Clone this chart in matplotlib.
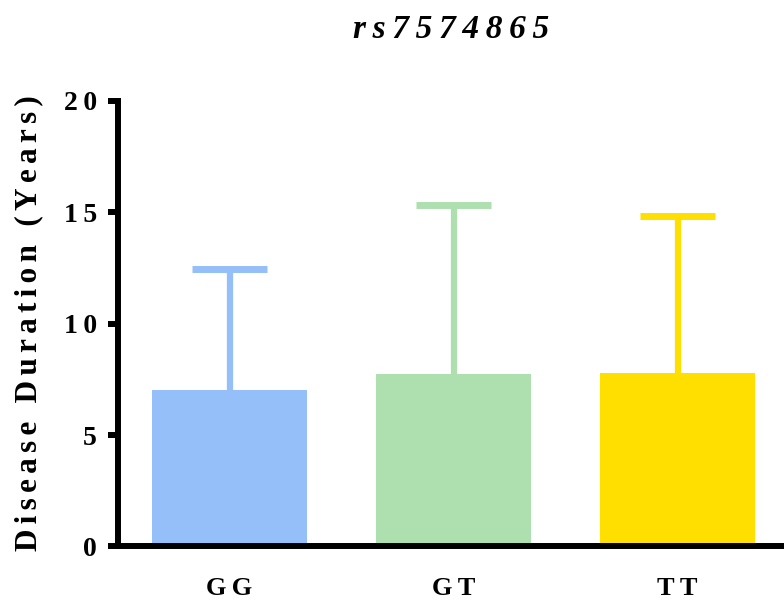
import matplotlib
matplotlib.use("Agg")
import matplotlib.pyplot as plt

# Genotype groups, mean disease duration and upper error (mean + SD)
genotypes = ["GG", "GT", "TT"]
means = [7.02, 7.74, 7.78]
upper = [12.44, 15.31, 14.82]
colors = ["#94BFF8", "#AEDFAF", "#FFDF00"]
yticks = [0, 5, 10, 15, 20]

SNP = "rs7574865"
YLABEL = "Disease Duration (Years)"
SIXTH = "\u2006"
THIN = "\u2009"


def spaced(s, sep=SIXTH):
    # GraphPad-style letter spacing
    return sep.join(s)


plt.rcParams["font.family"] = ["Liberation Serif", "DejaVu Serif"]
plt.rcParams["font.weight"] = "bold"

fig = plt.figure(figsize=(7.84, 6.01), dpi=100)
ax = fig.add_axes([0.1505, 0.0907, 0.8495, 0.742])

x = list(range(len(genotypes)))
bar_w = 0.692
cap_w = 0.335
ax.bar(x, means, width=bar_w, color=colors, zorder=2)
# upper-only error bars, cap on top
for xi, m, u, c in zip(x, means, upper, colors):
    ax.plot([xi, xi], [m, u], color=c, linewidth=4.5, solid_capstyle="butt", zorder=1)
    ax.plot([xi - cap_w / 2, xi + cap_w / 2], [u, u], color=c, linewidth=5,
            solid_capstyle="butt", zorder=1)

ax.set_xlim(-0.498, 2.475)
ax.set_ylim(0, 20)
ax.set_yticks(yticks)
ax.set_yticklabels([spaced(str(v), THIN) for v in yticks], fontsize=20,
                   fontweight="bold")
ax.set_xticks(x)
ax.set_xticklabels([spaced(g, THIN) for g in genotypes], fontsize=19,
                   fontweight="bold")

for side in ("top", "right"):
    ax.spines[side].set_visible(False)
for side in ("left", "bottom"):
    ax.spines[side].set_linewidth(4.3)
ax.tick_params(axis="y", length=7, width=4.3, pad=8)
ax.tick_params(axis="x", length=0, pad=22)

ax.set_ylabel(spaced(YLABEL), fontsize=22.5, fontweight="bold", labelpad=15)
ax.set_title(spaced(SNP, THIN), fontsize=24, fontweight="bold", style="italic", pad=45)

fig.savefig("out.png", dpi=100)
